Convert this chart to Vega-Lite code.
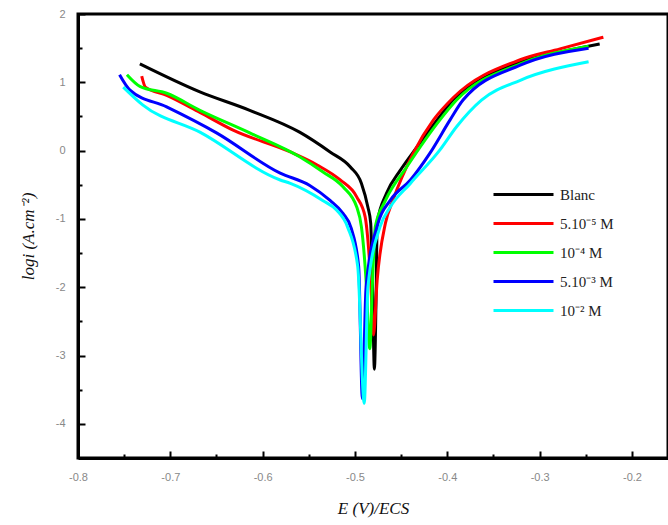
{
  "$schema": "https://vega.github.io/schema/vega-lite/v6.json",
  "width": 590,
  "height": 444,
  "autosize": {"type": "none"},
  "padding": {"left": 78, "top": 14, "right": 0, "bottom": 67},
  "background": "white",
  "config": {
    "view": {"stroke": "black", "strokeWidth": 3},
    "axis": {"grid": false}
  },
  "data": {"values": [
    {"s":"Blanc","i":0,"x":-0.733,"y":1.27},{"s":"Blanc","i":1,"x":-0.668,"y":0.86},{"s":"Blanc","i":2,"x":-0.614,"y":0.59},{"s":"Blanc","i":3,"x":-0.560,"y":0.27},{"s":"Blanc","i":4,"x":-0.527,"y":-0.02},{"s":"Blanc","i":5,"x":-0.505,"y":-0.24},{"s":"Blanc","i":6,"x":-0.493,"y":-0.48},{"s":"Blanc","i":7,"x":-0.486,"y":-0.83},{"s":"Blanc","i":8,"x":-0.483,"y":-1.06},{"s":"Blanc","i":9,"x":-0.481,"y":-2.0},{"s":"Blanc","i":10,"x":-0.479,"y":-3.2},{"s":"Blanc","i":11,"x":-0.477,"y":-2.0},{"s":"Blanc","i":12,"x":-0.476,"y":-1.06},{"s":"Blanc","i":13,"x":-0.466,"y":-0.63},{"s":"Blanc","i":14,"x":-0.451,"y":-0.29},{"s":"Blanc","i":15,"x":-0.433,"y":0.05},{"s":"Blanc","i":16,"x":-0.411,"y":0.45},{"s":"Blanc","i":17,"x":-0.394,"y":0.74},{"s":"Blanc","i":18,"x":-0.365,"y":1.03},{"s":"Blanc","i":19,"x":-0.321,"y":1.30},{"s":"Blanc","i":20,"x":-0.278,"y":1.44},{"s":"Blanc","i":21,"x":-0.235,"y":1.56},
    {"s":"5.10⁻⁵ M","i":0,"x":-0.731,"y":1.09},{"s":"5.10⁻⁵ M","i":1,"x":-0.727,"y":0.93},{"s":"5.10⁻⁵ M","i":2,"x":-0.704,"y":0.81},{"s":"5.10⁻⁵ M","i":3,"x":-0.668,"y":0.56},{"s":"5.10⁻⁵ M","i":4,"x":-0.632,"y":0.30},{"s":"5.10⁻⁵ M","i":5,"x":-0.570,"y":-0.02},{"s":"5.10⁻⁵ M","i":6,"x":-0.541,"y":-0.21},{"s":"5.10⁻⁵ M","i":7,"x":-0.516,"y":-0.43},{"s":"5.10⁻⁵ M","i":8,"x":-0.498,"y":-0.68},{"s":"5.10⁻⁵ M","i":9,"x":-0.489,"y":-0.97},{"s":"5.10⁻⁵ M","i":10,"x":-0.487,"y":-1.17},{"s":"5.10⁻⁵ M","i":11,"x":-0.483,"y":-1.9},{"s":"5.10⁻⁵ M","i":12,"x":-0.480,"y":-2.7},{"s":"5.10⁻⁵ M","i":13,"x":-0.476,"y":-1.9},{"s":"5.10⁻⁵ M","i":14,"x":-0.467,"y":-1.06},{"s":"5.10⁻⁵ M","i":15,"x":-0.459,"y":-0.73},{"s":"5.10⁻⁵ M","i":16,"x":-0.437,"y":-0.04},{"s":"5.10⁻⁵ M","i":17,"x":-0.415,"y":0.45},{"s":"5.10⁻⁵ M","i":18,"x":-0.394,"y":0.77},{"s":"5.10⁻⁵ M","i":19,"x":-0.321,"y":1.33},{"s":"5.10⁻⁵ M","i":20,"x":-0.278,"y":1.49},{"s":"5.10⁻⁵ M","i":21,"x":-0.231,"y":1.66},
    {"s":"10⁻⁴ M","i":0,"x":-0.747,"y":1.11},{"s":"10⁻⁴ M","i":1,"x":-0.733,"y":0.94},{"s":"10⁻⁴ M","i":2,"x":-0.704,"y":0.84},{"s":"10⁻⁴ M","i":3,"x":-0.668,"y":0.59},{"s":"10⁻⁴ M","i":4,"x":-0.614,"y":0.26},{"s":"10⁻⁴ M","i":5,"x":-0.560,"y":-0.09},{"s":"10⁻⁴ M","i":6,"x":-0.535,"y":-0.31},{"s":"10⁻⁴ M","i":7,"x":-0.513,"y":-0.53},{"s":"10⁻⁴ M","i":8,"x":-0.498,"y":-0.83},{"s":"10⁻⁴ M","i":9,"x":-0.493,"y":-1.12},{"s":"10⁻⁴ M","i":10,"x":-0.488,"y":-1.9},{"s":"10⁻⁴ M","i":11,"x":-0.484,"y":-2.9},{"s":"10⁻⁴ M","i":12,"x":-0.481,"y":-1.9},{"s":"10⁻⁴ M","i":13,"x":-0.478,"y":-1.11},{"s":"10⁻⁴ M","i":14,"x":-0.467,"y":-0.73},{"s":"10⁻⁴ M","i":15,"x":-0.444,"y":-0.24},{"s":"10⁻⁴ M","i":16,"x":-0.408,"y":0.45},{"s":"10⁻⁴ M","i":17,"x":-0.390,"y":0.74},{"s":"10⁻⁴ M","i":18,"x":-0.321,"y":1.27},{"s":"10⁻⁴ M","i":19,"x":-0.247,"y":1.53},
    {"s":"5.10⁻³ M","i":0,"x":-0.755,"y":1.11},{"s":"5.10⁻³ M","i":1,"x":-0.744,"y":0.89},{"s":"5.10⁻³ M","i":2,"x":-0.704,"y":0.64},{"s":"5.10⁻³ M","i":3,"x":-0.650,"y":0.26},{"s":"5.10⁻³ M","i":4,"x":-0.581,"y":-0.33},{"s":"5.10⁻³ M","i":5,"x":-0.549,"y":-0.51},{"s":"5.10⁻³ M","i":6,"x":-0.527,"y":-0.73},{"s":"5.10⁻³ M","i":7,"x":-0.513,"y":-0.92},{"s":"5.10⁻³ M","i":8,"x":-0.504,"y":-1.14},{"s":"5.10⁻³ M","i":9,"x":-0.496,"y":-1.7},{"s":"5.10⁻³ M","i":10,"x":-0.492,"y":-3.63},{"s":"5.10⁻³ M","i":11,"x":-0.488,"y":-2.0},{"s":"5.10⁻³ M","i":12,"x":-0.475,"y":-1.06},{"s":"5.10⁻³ M","i":13,"x":-0.462,"y":-0.73},{"s":"5.10⁻³ M","i":14,"x":-0.440,"y":-0.43},{"s":"5.10⁻³ M","i":15,"x":-0.419,"y":-0.04},{"s":"5.10⁻³ M","i":16,"x":-0.397,"y":0.45},{"s":"5.10⁻³ M","i":17,"x":-0.383,"y":0.74},{"s":"5.10⁻³ M","i":18,"x":-0.321,"y":1.25},{"s":"5.10⁻³ M","i":19,"x":-0.247,"y":1.50},
    {"s":"10⁻² M","i":0,"x":-0.751,"y":0.93},{"s":"10⁻² M","i":1,"x":-0.730,"y":0.67},{"s":"10⁻² M","i":2,"x":-0.668,"y":0.27},{"s":"10⁻² M","i":3,"x":-0.581,"y":-0.43},{"s":"10⁻² M","i":4,"x":-0.570,"y":-0.48},{"s":"10⁻² M","i":5,"x":-0.535,"y":-0.73},{"s":"10⁻² M","i":6,"x":-0.520,"y":-0.87},{"s":"10⁻² M","i":7,"x":-0.508,"y":-1.12},{"s":"10⁻² M","i":8,"x":-0.497,"y":-1.7},{"s":"10⁻² M","i":9,"x":-0.490,"y":-3.7},{"s":"10⁻² M","i":10,"x":-0.486,"y":-2.0},{"s":"10⁻² M","i":11,"x":-0.473,"y":-1.12},{"s":"10⁻² M","i":12,"x":-0.462,"y":-0.83},{"s":"10⁻² M","i":13,"x":-0.440,"y":-0.48},{"s":"10⁻² M","i":14,"x":-0.408,"y":0.01},{"s":"10⁻² M","i":15,"x":-0.390,"y":0.35},{"s":"10⁻² M","i":16,"x":-0.363,"y":0.74},{"s":"10⁻² M","i":17,"x":-0.321,"y":1.03},{"s":"10⁻² M","i":18,"x":-0.247,"y":1.30}
  ]},
  "mark": {"type": "line", "strokeWidth": 3, "strokeJoin": "round", "interpolate": "monotone", "clip": true},
  "encoding": {
    "x": {
      "field": "x", "type": "quantitative",
      "scale": {"domain": [-0.8, -0.161], "nice": false, "zero": false},
      "axis": {
        "values": [-0.8,-0.75,-0.7,-0.65,-0.6,-0.55,-0.5,-0.45,-0.4,-0.35,-0.3,-0.25,-0.2],
        "labelExpr": "abs(datum.value*10 - round(datum.value*10)) > 0.01 ? '' : (datum.value < 0 ? '-' + format(-datum.value, '.1f') : format(datum.value, '.1f'))",
        "labelFlush": false,
        "domainColor": "black", "domainWidth": 3,
        "tickColor": "black", "tickWidth": 2,
        "tickSize": {"condition": {"test": "abs(datum.value*10 - round(datum.value*10)) > 0.01", "value": -4}, "value": -7},
        "labelPadding": 20,
        "labelFont": "Liberation Sans", "labelFontSize": 11, "labelColor": "#888888",
        "title": "E (V)/ECS",
        "titleFont": "Liberation Serif", "titleFontStyle": "italic", "titleFontWeight": "normal", "titleFontSize": 17, "titleColor": "#111111",
        "titlePadding": 18
      }
    },
    "y": {
      "field": "y", "type": "quantitative",
      "scale": {"domain": [-4.5, 2], "nice": false, "zero": false},
      "axis": {
        "values": [-4,-3.5,-3,-2.5,-2,-1.5,-1,-0.5,0,0.5,1,1.5,2],
        "labelExpr": "abs(datum.value - round(datum.value)) > 0.01 ? '' : (datum.value < 0 ? '-' + format(-datum.value, 'd') : format(datum.value, 'd'))",
        "labelFlush": false,
        "domainColor": "black", "domainWidth": 3,
        "tickColor": "black", "tickWidth": 2,
        "tickSize": {"condition": {"test": "abs(datum.value - round(datum.value)) > 0.01", "value": -4}, "value": -7},
        "labelPadding": 20,
        "labelFont": "Liberation Sans", "labelFontSize": 11, "labelColor": "#888888",
        "title": "logi (A.cm⁻²)",
        "titleFont": "Liberation Serif", "titleFontStyle": "italic", "titleFontWeight": "normal", "titleFontSize": 17, "titleColor": "#111111",
        "titlePadding": 18
      }
    },
    "color": {
      "field": "s", "type": "nominal",
      "scale": {"domain": ["Blanc","5.10⁻⁵ M","10⁻⁴ M","5.10⁻³ M","10⁻² M"], "range": ["#000000","#ff0000","#00ff00","#0000ff","#00ffff"]},
      "legend": {
        "title": null, "orient": "none", "legendX": 429, "legendY": 164,
        "padding": 0,
        "symbolType": "M-2,0H2", "symbolSize": 900, "symbolStrokeWidth": 3,
        "rowPadding": 4, "labelOffset": 20,
        "labelFont": "Liberation Serif", "labelFontSize": 15, "labelColor": "#222222"
      }
    },
    "order": {"field": "i", "type": "quantitative"}
  }
}
